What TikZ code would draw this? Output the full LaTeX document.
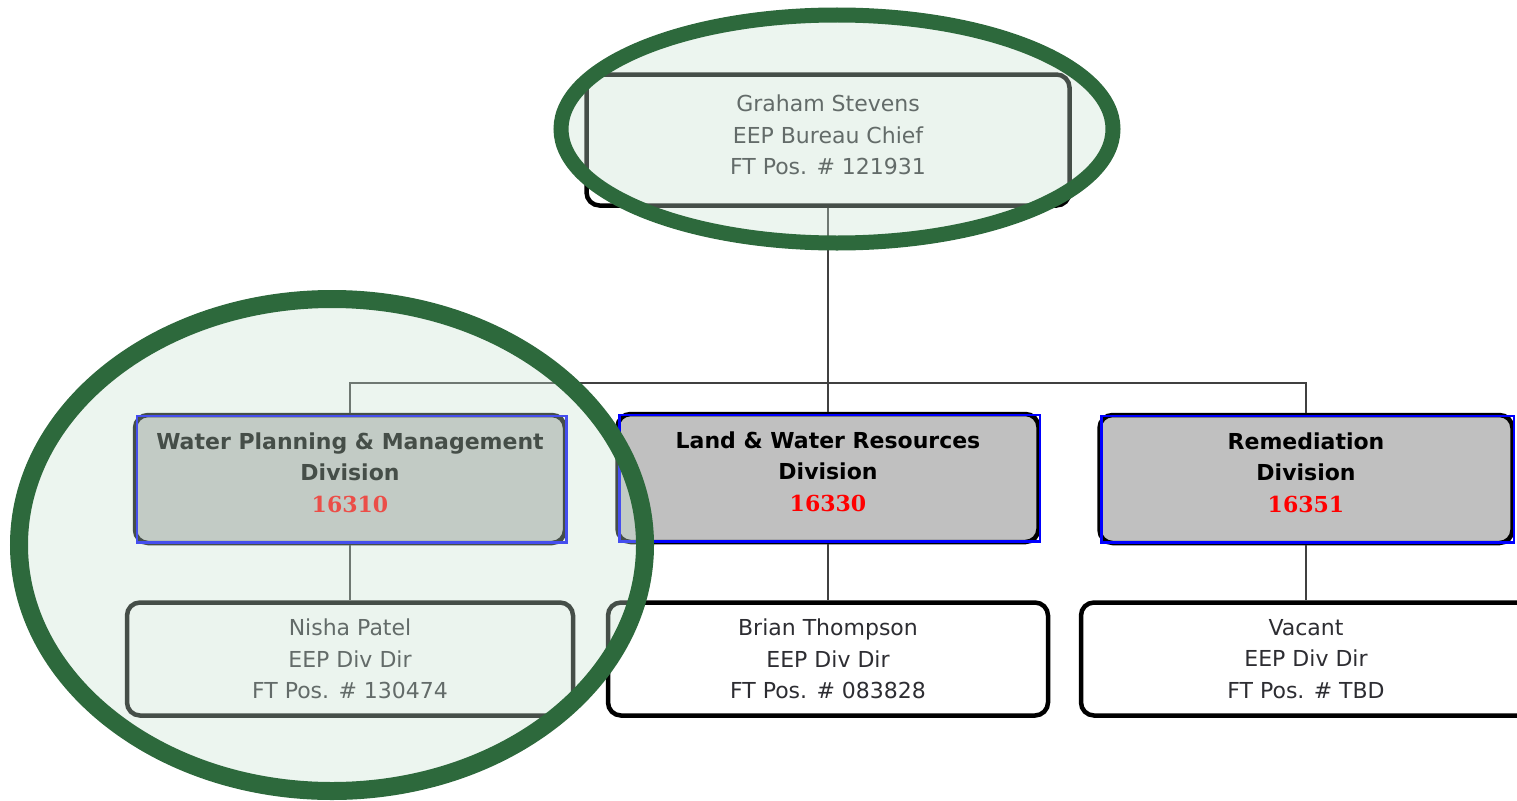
\documentclass[tikz,border=0pt]{standalone}
\usepackage{fontspec}
\setmainfont{DejaVu Sans}
\newfontfamily\numfont{DejaVu Serif}
\usetikzlibrary{positioning}
\definecolor{ringgreen}{RGB}{45,105,60}
\definecolor{ringfill}{RGB}{200,225,208}
\definecolor{boxgray}{RGB}{192,192,192}
\definecolor{textgray}{RGB}{45,45,50}
\definecolor{divblue}{RGB}{0,0,255}
\tikzset{x=1pt, y=-1pt,
box/.style={draw=black, line width=4.5pt, rounded corners=13pt, align=center,
  inner sep=0pt, font=\fontsize{22}{31.5}\selectfont, text=textgray},
person/.style={box, fill=white, minimum height=113pt},
division/.style={box, fill=boxgray, minimum height=128pt, text depth=13pt,
  font=\fontsize{22}{31.5}\selectfont\bfseries, text=black},
blueline/.style={draw=divblue, line width=2.5pt},
link/.style={draw=black!75, line width=1.6pt},
ring/.style={draw=ringgreen, fill=ringfill, fill opacity=0.35},
}
\newcommand{\divcode}[1]{\\{\numfont\bfseries\color{red}#1}}

\begin{document}
\begin{tikzpicture}
    \useasboundingbox (0,0) rectangle (1517,800);
    \clip (0,0) rectangle (1517,800);
    % bureau chief
    \node[box, fill=white, minimum width=483pt, minimum height=131pt, text depth=10pt] (chief) at (828,140)
        {Graham Stevens\\EEP Bureau Chief\\FT Pos. \# 121931};
    % divisions
    \node[division, minimum width=430pt] (wpm) at (350,479)
        {Water Planning \& Management\\Division\divcode{16310}};
    \node[division, minimum width=421pt] (lwr) at (828,478)
        {Land \& Water Resources\\Division\divcode{16330}};
    \node[division, minimum width=413pt] (rem) at (1306,479)
        {Remediation\\Division\divcode{16351}};
    \foreach \d in {wpm,lwr,rem}
        \draw[blueline] ([shift={(4,3)}]\d.north west) rectangle ([shift={(-1,-3)}]\d.south east);
    % directors
    \node[person, minimum width=446pt] (patel) at (350,659)
        {Nisha Patel\\EEP Div Dir\\FT Pos. \# 130474};
    \node[person, minimum width=440pt] (thompson) at (828,659)
        {Brian Thompson\\EEP Div Dir\\FT Pos. \# 083828};
    \node[person, minimum width=450pt] (vacant) at (1306,659)
        {Vacant\\EEP Div Dir\\FT Pos. \# TBD};
    % links
    \coordinate (bus) at (828,383);
    \draw[link] (chief.south) -- (lwr.north);
    \draw[link] (wpm.north) -- (wpm.north |- bus) -- (rem.north |- bus) -- (rem.north);
    \draw[link] (wpm.south) -- (patel.north);
    \draw[link] (lwr.south) -- (thompson.north);
    \draw[link] (rem.south) -- (vacant.north);
    % highlights
    \draw[ring, line width=15pt] (837,129) ellipse [x radius=276, y radius=114];
    \draw[ring, line width=18pt] (332,545) ellipse [x radius=313, y radius=246];
\end{tikzpicture}
\end{document}
